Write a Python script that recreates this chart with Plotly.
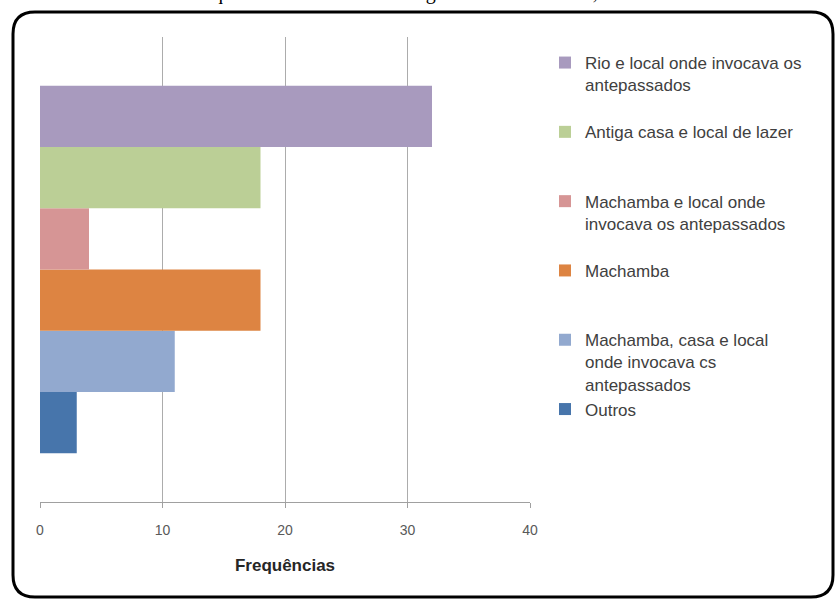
import plotly.graph_objects as go

# ---- data ----
categories = [
    "Rio e local onde invocava os<br>antepassados",
    "Antiga casa e local de lazer",
    "Machamba e local onde<br>invocava os antepassados",
    "Machamba",
    "Machamba, casa e local<br>onde invocava cs<br>antepassados",
    "Outros",
]
values = [32, 18, 4, 18, 11, 3]
colors = ["#A89ABE", "#BBCF96", "#D69595", "#DD8442", "#92A9CF", "#4775AB"]
x_ticks = [0, 10, 20, 30, 40]
x_title = "Frequências"
top_text = "que mais lembra a sua antiga área de residência, Ntatai?"

W, H = 835, 599
L, R, T, B = 40, 530, 37, 502   # plot area in pixels


def px(x):
    return (x - L) / (R - L)


def py(y):
    return (B - y) / (B - T)


fig = go.Figure()
# add in reverse so the first category sits on top of the bar group
for i in reversed(range(len(categories))):
    name = categories[i]
    nlines = name.count("<br>") + 1
    pad = "<br> " * (3 - nlines)
    fig.add_trace(go.Bar(
        x=[values[i]], y=[0], orientation="h",
        name=name + pad,
        legendgroup=f"g{i}",
        legendrank=i + 1,
        marker=dict(color=colors[i], line=dict(width=0)),
    ))

fig.update_layout(
    width=W, height=H,
    margin=dict(l=L, r=W - R, t=T, b=H - B, pad=0),
    paper_bgcolor="white", plot_bgcolor="white",
    barmode="group", bargap=0.21, bargroupgap=0,
    font=dict(family="Liberation Sans, Arial, sans-serif", color="#404040"),
    showlegend=True,
    legend=dict(
        x=px(545), xanchor="left", y=py(45), yanchor="top",
        traceorder="grouped", tracegroupgap=0,
        valign="top",
        font=dict(size=17, color="#404040"),
        bgcolor="rgba(0,0,0,0)",
    ),
    xaxis=dict(
        range=[0, 40], tickvals=x_ticks, showgrid=True,
        gridcolor="#ACACAC", gridwidth=1,
        showline=True, linecolor="#A0A0A0", linewidth=1,
        ticks="outside", ticklen=5, tickcolor="#A0A0A0",
        tickfont=dict(size=14, color="#595959"),
        ticklabelstandoff=10,
        zeroline=False,
        title=dict(text="<b>" + x_title + "</b>", font=dict(size=17, color="#262626"), standoff=22),
        fixedrange=True,
    ),
    yaxis=dict(
        range=[-0.5, 0.5], showticklabels=False, showgrid=False,
        zeroline=False, showline=False, ticks="",
    ),
)

# rounded chart-area border
x0, y0, x1, y1, r = 13, 12, 833, 597, 22
path = (
    f"M {px(x0 + r)},{py(y0)} L {px(x1 - r)},{py(y0)} "
    f"Q {px(x1)},{py(y0)} {px(x1)},{py(y0 + r)} "
    f"L {px(x1)},{py(y1 - r)} Q {px(x1)},{py(y1)} {px(x1 - r)},{py(y1)} "
    f"L {px(x0 + r)},{py(y1)} Q {px(x0)},{py(y1)} {px(x0)},{py(y1 - r)} "
    f"L {px(x0)},{py(y0 + r)} Q {px(x0)},{py(y0)} {px(x0 + r)},{py(y0)} Z"
)
fig.add_shape(type="path", path=path, xref="paper", yref="paper",
              line=dict(color="black", width=3), layer="above")

# caption text cut off at the top edge, as in the reference
fig.add_annotation(
    text=top_text, xref="paper", yref="paper",
    x=px(437), y=py(6), xanchor="center", yanchor="bottom",
    showarrow=False,
    font=dict(family="Liberation Serif, Times New Roman, serif", size=20, color="black"),
)

fig.write_html("out.html")
